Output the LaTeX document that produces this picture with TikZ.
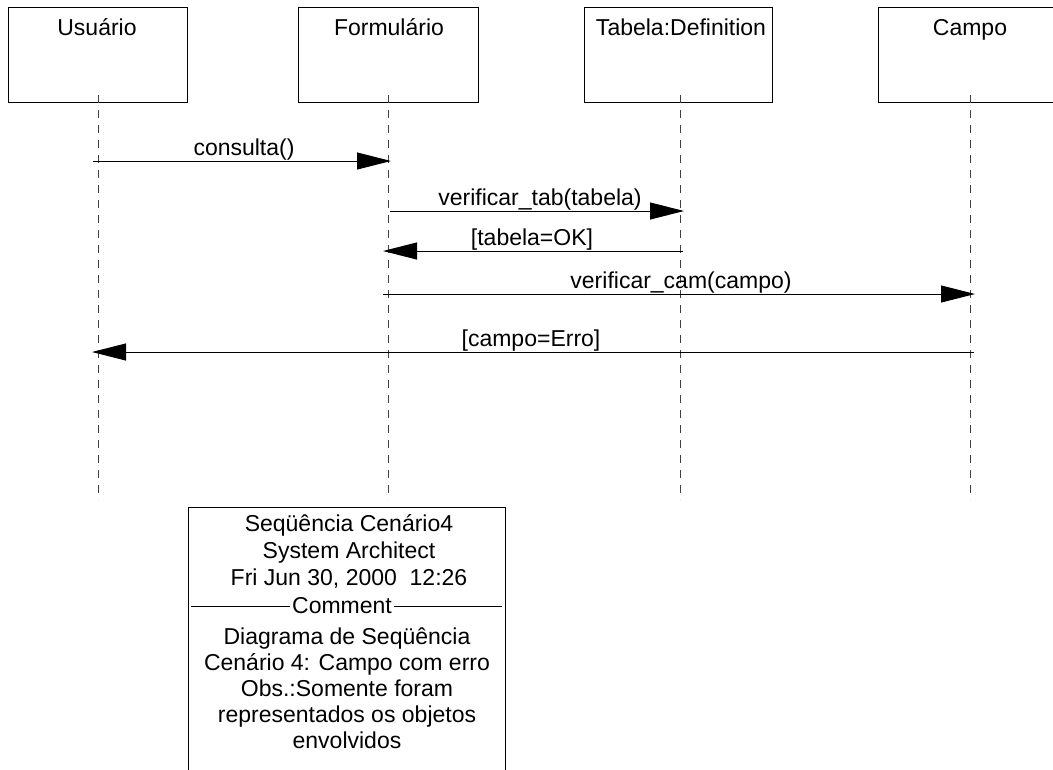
\documentclass[tikz,border=0pt]{standalone}
\usepackage{fontspec}
\setmainfont{Liberation Sans}
\usetikzlibrary{arrows.meta}
\begin{document}
\begin{tikzpicture}[x=1pt,y=-1pt,
  every node/.style={font=\fontsize{23pt}{27pt}\selectfont},
  objbox/.style={draw, line width=1pt, anchor=north west, minimum height=95pt, inner sep=0pt},
  title/.style={anchor=base, inner sep=0pt},
  lifeline/.style={draw=black!75, line width=1pt, dash pattern=on 8pt off 7pt},
  msg/.style={draw, line width=1pt, -{Triangle[length=34pt,width=17pt]}},
  msglabel/.style={anchor=base, inner sep=0pt},
  notetext/.style={anchor=base, inner sep=0pt}
]
\useasboundingbox (0,0) rectangle (1053,769);
\clip (0,0) rectangle (1053,769);

% object boxes
\node[objbox, minimum width=179pt] (usrbox) at (8,7) {};
\node[objbox, minimum width=180pt] (frmbox) at (298,7) {};
\node[objbox, minimum width=188pt] (tabbox) at (584,7) {};
\node[objbox, minimum width=190pt] (cmpbox) at (878,7) {};

\node[title] (usrt) at (97,35) {Usuário};
\node[title] (frmt) at (389,35) {Formulário};
\node[title] (tabt) at (681,35) {Tabela:Definition};
\node[title] (cmpt) at (970,35) {Campo};

% lifelines
\coordinate (uA) at (98,95);  \coordinate (uB) at (98,500);
\coordinate (fA) at (388,95); \coordinate (fB) at (388,500);
\coordinate (tA) at (680,95); \coordinate (tB) at (680,500);
\coordinate (cA) at (970,95); \coordinate (cB) at (970,500);
\draw[lifeline] (uA) -- (uB);
\draw[lifeline] (fA) -- (fB);
\draw[lifeline] (tA) -- (tB);
\draw[lifeline] (cA) -- (cB);

% message end points
\coordinate (m1s) at (93,161);  \coordinate (m1e) at (391,161);
\coordinate (m2s) at (390,211); \coordinate (m2e) at (684,211);
\coordinate (m3s) at (683,251); \coordinate (m3e) at (383,251);
\coordinate (m4s) at (383,294); \coordinate (m4e) at (975,294);
\coordinate (m5s) at (974,352); \coordinate (m5e) at (92,352);

\draw[msg] (m1s) -- (m1e);
\draw[msg] (m2s) -- (m2e);
\draw[msg] (m3s) -- (m3e);
\draw[msg] (m4s) -- (m4e);
\draw[msg] (m5s) -- (m5e);

\node[msglabel] (l1) at (244,155) {consulta()};
\node[msglabel] (l2) at (540,205) {verificar\_tab(tabela)};
\node[msglabel] (l3) at (532,245) {[tabela=OK]};
\node[msglabel] (l4) at (681,288) {verificar\_cam(campo)};
\node[msglabel] (l5) at (531,346) {[campo=Erro]};

% note
\node[draw, line width=1pt, anchor=north west, minimum width=317pt, minimum height=290pt, inner sep=0pt] (note) at (188,507) {};
\node[notetext] (n1) at (349,531) {Seqüência Cenário4};
\node[notetext] (n2) at (349,558) {System Architect };
\node[notetext] (n3) at (349,585) {Fri Jun 30, 2000\ \ 12:26};
\node[notetext, inner xsep=2pt] (cm) at (342,613) {Comment};
\coordinate (cmL) at (191,606); \coordinate (cmR) at (502,606);
\draw[line width=1pt] (cmL) -- (cmL -| cm.west);
\draw[line width=1pt] (cm.east |- cmR) -- (cmR);
\node[notetext] (n4) at (347,644) {Diagrama de Seqüência};
\node[notetext] (n5) at (347,670) {Cenário 4: Campo com erro};
\node[notetext] (n6) at (347,696) {Obs.:Somente foram};
\node[notetext] (n7) at (347,722) {representados os objetos};
\node[notetext] (n8) at (347,748) {envolvidos};
\end{tikzpicture}
\end{document}
